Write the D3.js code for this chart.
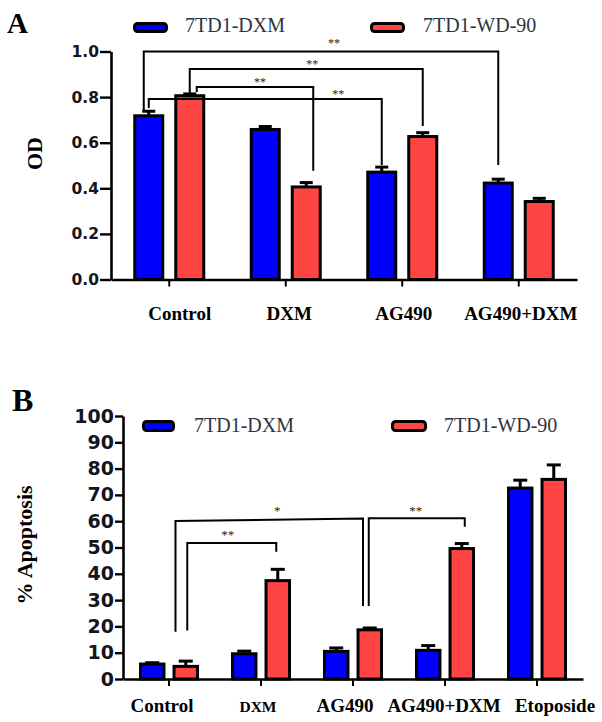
<!DOCTYPE html>
<html><head><meta charset="utf-8">
<script src="https://cdn.jsdelivr.net/npm/d3@7"></script>
<style>body{margin:0;background:#fff} svg{display:block}</style>
</head><body><svg id="chart" width="602" height="722"></svg>
<script>
// ---------- data ----------
const seriesNames = ["7TD1-DXM", "7TD1-WD-90"];

// Panel A: OD
const catsA = ["Control", "DXM", "AG490", "AG490+DXM"];
const odDXM = [0.718, 0.658, 0.471, 0.423];
const odDXMErr = [0.020, 0.013, 0.022, 0.017];
const odWD = [0.806, 0.406, 0.627, 0.342];
const odWDErr = [0.008, 0.019, 0.017, 0.014];
const ticksA = [0, 0.2, 0.4, 0.6, 0.8, 1.0];
// significance brackets: [fromCat, fromSeries, toCat, toSeries, level, fromEnd, toEnd, label]
const sigA = [
  ["Control", 0, "AG490+DXM", 0, 1.0, 0.743, 0.502, "**"],
  ["Control", 1, "AG490", 1, 0.923, 0.818, 0.673, "**"],
  ["Control", 1, "DXM", 1, 0.844, 0.822, 0.477, "**"],
  ["Control", 0, "AG490", 0, 0.792, 0.752, 0.502, "**"]
];

// Panel B: % Apoptosis
const catsB = ["Control", "DXM", "AG490", "AG490+DXM", "Etoposide"];
const apoDXM = [5.7, 9.6, 10.5, 10.9, 72.6];
const apoDXMErr = [0.5, 1.0, 1.3, 1.8, 3.0];
const apoWD = [4.8, 37.4, 18.7, 49.6, 75.9];
const apoWDErr = [2.0, 4.3, 0.7, 1.9, 5.5];
const ticksB = [0, 10, 20, 30, 40, 50, 60, 70, 80, 90, 100];
const sigB = [
  ["Control", null, "AG490", null, [60.1, 61.0], 18.0, 27.8, "*"],
  ["Control", 1, "DXM", 1, [51.7, 51.7], 18.4, 48.4, "**"],
  ["AG490", 1, "AG490+DXM", 1, [61.1, 61.1], 27.8, 57.9, "**"]
];

// ---------- layout / style ----------
const colors = ["#0000FF", "#FF4444"];
const serif = "'Liberation Serif','Times New Roman',serif";
const sans = "'DejaVu Sans',sans-serif";
const svg = d3.select("#chart");

function drawPanel(o) {
  const g = svg.append("g");
  const y = d3.scaleLinear().domain(o.domain).range(o.yRange);
  const x0 = d3.scaleBand().domain(o.cats).range(o.xRange).padding(0);
  const x1 = d3.scaleBand().domain([0, 1]).range(o.subRange).paddingInner(o.subPad).paddingOuter(0);
  const bw = x1.bandwidth();
  const cx = (cat, s) => s === null ? x0(cat) + x0.bandwidth() / 2 : x0(cat) + x1(s) + bw / 2;

  // y axis
  const ya = d3.axisLeft(y).tickValues(o.ticks).tickSize(o.yTick).tickSizeOuter(0)
    .tickPadding(1).tickFormat(o.fmt);
  const yg = g.append("g").attr("transform", `translate(${o.xRange[0]},0)`).call(ya);
  yg.select(".domain").attr("stroke", "#000").attr("stroke-width", 2.6);
  yg.selectAll(".tick line").attr("stroke", "#000").attr("stroke-width", 2.4);
  yg.selectAll(".tick text").attr("font-family", sans).attr("font-weight", "bold")
    .attr("font-size", o.tickFont).attr("fill", "#151520");

  // x axis
  const xa = d3.axisBottom(x0).tickSize(7).tickSizeOuter(0).tickFormat("");
  const xg = g.append("g").attr("transform", `translate(0,${o.yRange[0]})`).call(xa);
  xg.select(".domain").attr("stroke", "#000").attr("stroke-width", 2.6);
  xg.selectAll(".tick line").attr("stroke", "#000").attr("stroke-width", 2);

  // x labels
  g.selectAll(".xl").data(o.cats).join("text")
    .attr("x", (d, i) => x0(d) + x0.bandwidth() / 2 + o.labelDx[i])
    .attr("y", o.labelY)
    .attr("text-anchor", "middle")
    .attr("font-family", serif).attr("font-weight", "bold")
    .attr("font-size", (d, i) => o.labelSize[i])
    .attr("fill", "#000")
    .text(d => d);

  // bars
  const rows = [];
  o.cats.forEach((c, i) => {
    o.vals.forEach((vs, s) => rows.push({ cat: c, s, v: vs[i], e: o.errs[s][i] }));
  });
  g.selectAll(".bar").data(rows).join("rect")
    .attr("x", d => x0(d.cat) + x1(d.s))
    .attr("y", d => y(d.v))
    .attr("width", bw)
    .attr("height", d => y(0) - y(d.v))
    .attr("fill", d => colors[d.s])
    .attr("stroke", "#000").attr("stroke-width", 3);

  // error bars
  const eg = g.selectAll(".err").data(rows).join("g");
  eg.append("line")
    .attr("x1", d => cx(d.cat, d.s)).attr("x2", d => cx(d.cat, d.s))
    .attr("y1", d => y(d.v)).attr("y2", d => y(d.v + d.e))
    .attr("stroke", "#000").attr("stroke-width", 3);
  eg.append("line")
    .attr("x1", d => cx(d.cat, d.s) - o.cap / 2).attr("x2", d => cx(d.cat, d.s) + o.cap / 2)
    .attr("y1", d => y(d.v + d.e)).attr("y2", d => y(d.v + d.e))
    .attr("stroke", "#000").attr("stroke-width", 3);

  // significance brackets
  o.sig.forEach((b, i) => {
    const [c1, s1, c2, s2, lvl, e1, e2, lab] = b;
    const l1 = Array.isArray(lvl) ? lvl[0] : lvl;
    const l2 = Array.isArray(lvl) ? lvl[1] : lvl;
    const xa1 = cx(c1, s1) + o.sigDx[i][0];
    const xa2 = cx(c2, s2) + o.sigDx[i][1];
    g.append("path")
      .attr("d", `M${xa1},${y(e1)}V${y(l1)}L${xa2},${y(l2)}V${y(e2)}`)
      .attr("fill", "none").attr("stroke", "#000").attr("stroke-width", 2);
    g.append("text")
      .attr("x", (xa1 + xa2) / 2 + o.sigLab[i][0])
      .attr("y", y((l1 + l2) / 2) - o.sigLab[i][1])
      .attr("text-anchor", "middle")
      .attr("font-family", serif).attr("font-size", o.starSize).attr("fill", "#222")
      .text(lab);
  });

  // legend
  o.legend.forEach((L, s) => {
    g.append("rect").attr("x", L[0]).attr("y", L[1]).attr("width", L[2]).attr("height", L[3])
      .attr("rx", 3).attr("fill", colors[s]).attr("stroke", "#000").attr("stroke-width", 3);
    g.append("text").attr("x", L[4]).attr("y", L[5])
      .attr("font-family", serif).attr("font-size", o.legendSize).attr("fill", "#2e3440")
      .text(seriesNames[s]);
  });

  // panel letter
  g.append("text").attr("x", o.letter[0]).attr("y", o.letter[1])
    .attr("font-family", serif).attr("font-weight", "bold").attr("font-size", o.letter[2])
    .text(o.letter[3]);

  // y title
  g.append("text").attr("transform", `translate(${o.yTitle[0]},${o.yTitle[1]}) rotate(-90)`)
    .attr("text-anchor", "middle")
    .attr("font-family", serif).attr("font-weight", "bold").attr("font-size", o.yTitle[2])
    .text(o.yTitle[3]);
}

drawPanel({
  cats: catsA, vals: [odDXM, odWD], errs: [odDXMErr, odWDErr], ticks: ticksA,
  domain: [0, 1], yRange: [279.5, 51.5], xRange: [111, 577],
  subRange: [23.75, 92.75], subPad: 0.317,
  yTick: 11, tickFont: 15.5, fmt: d3.format(".1f"),
  labelY: 320, labelDx: [10.5, 3.5, 1.5, 2], labelSize: [19, 19, 19, 19],
  cap: 13, starSize: 12,
  sig: sigA,
  sigDx: [[-5, 0], [0, 0], [7, 7], [0, 0]],
  sigLab: [[13, 5], [6, 1], [5, 1], [73, 1.3]],
  legend: [[134.5, 23.5, 32, 8, 185, 32], [371.5, 23.5, 32, 8, 423, 32]],
  legendSize: 20,
  letter: [7, 33, 29, "A"],
  yTitle: [42, 153.5, 22, "OD"]
});

drawPanel({
  cats: catsB, vals: [apoDXM, apoWD], errs: [apoDXMErr, apoWDErr], ticks: ticksB,
  domain: [0, 100], yRange: [679, 416], xRange: [123, 583],
  subRange: [17.5, 74.5], subPad: 0.3,
  yTick: 8, tickFont: 19, fmt: d3.format("d"),
  labelY: 711.5, labelDx: [-7, -3, -8, -1, 18], labelSize: [19, 15.5, 19, 19, 19],
  cap: 14, starSize: 13,
  sig: sigB,
  sigDx: [[6.5, 10], [1.5, -1.5], [-1, 3]],
  sigLab: [[8, 5], [-4, 4], [-1, 3]],
  legend: [[143.5, 421.5, 30, 9, 194, 431.5], [392.5, 421.5, 33, 9, 444, 431.5]],
  legendSize: 20,
  letter: [12, 410.5, 32, "B"],
  yTitle: [32, 545, 22, "% Apoptosis"]
});
</script>
</body></html>
